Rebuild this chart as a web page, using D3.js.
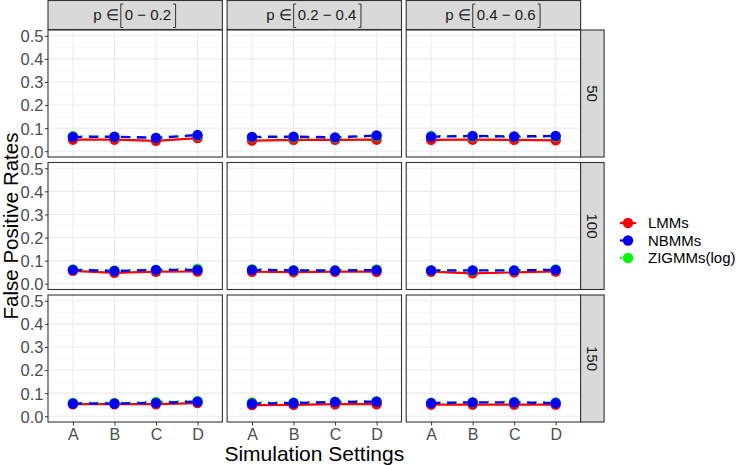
<!DOCTYPE html>
<html><head><meta charset="utf-8">
<script src="https://cdn.jsdelivr.net/npm/d3@7"></script>
<style>body{margin:0;background:#fff}svg{display:block;font-family:"Liberation Sans",Arial,sans-serif}</style>
</head><body><svg id="c" width="740" height="465"></svg>
<script>
const settings = ["A","B","C","D"];
const pRanges = [["0","0.2"],["0.2","0.4"],["0.4","0.6"]];
const sampleSizes = ["50","100","150"];
const methods = ["LMMs","NBMMs","ZIGMMs(log)"];
const yTicks = [0,0.1,0.2,0.3,0.4,0.5];
// values[row][col] for each method
const lmm = [
 [[0.050,0.050,0.045,0.057],[0.046,0.049,0.049,0.050],[0.049,0.050,0.049,0.047]],
 [[0.056,0.047,0.052,0.053],[0.052,0.050,0.052,0.052],[0.052,0.045,0.049,0.053]],
 [[0.052,0.052,0.052,0.057],[0.048,0.049,0.052,0.052],[0.050,0.050,0.050,0.050]]
];
const nbmm = [
 [[0.062,0.063,0.058,0.070],[0.062,0.063,0.060,0.068],[0.063,0.066,0.064,0.066]],
 [[0.060,0.055,0.060,0.060],[0.060,0.058,0.057,0.059],[0.058,0.058,0.058,0.060]],
 [[0.055,0.055,0.058,0.063],[0.055,0.057,0.062,0.063],[0.057,0.060,0.060,0.057]]
];
const zigmm = [
 [[0.065,0.062,0.058,0.068],[0.060,0.060,0.058,0.065],[0.066,0.063,0.062,0.064]],
 [[0.062,0.057,0.060,0.065],[0.063,0.058,0.058,0.062],[0.058,0.056,0.058,0.062]],
 [[0.058,0.057,0.062,0.066],[0.060,0.060,0.063,0.065],[0.058,0.060,0.062,0.060]]
];
const colors = {"LMMs":"#ff0000","NBMMs":"#0000ff","ZIGMMs(log)":"#00ff00"};
const dashes = {"LMMs":null,"NBMMs":"9,7","ZIGMMs(log)":"2,6"};
const seriesData = {"LMMs":lmm,"NBMMs":nbmm,"ZIGMMs(log)":zigmm};
const drawOrder = ["LMMs","ZIGMMs(log)","NBMMs"];

const svg = d3.select("#c");
const left=48, topY=30, pw=174.4, ph=127, gx=4.7, gy=5.5, stripH=29.5, stripW=23.5;
const x = d3.scalePoint().domain(settings).range([0,pw]).padding(0.6);
const y = d3.scaleLinear().domain([-0.025,0.525]).range([ph,0]);
const minor = [0.05,0.15,0.25,0.35,0.45];
const txtCol="#4d4d4d";

for(let r=0;r<3;r++){
  for(let c=0;c<3;c++){
    const g = svg.append("g").attr("transform",`translate(${left+c*(pw+gx)},${topY+r*(ph+gy)})`);
    g.append("rect").attr("width",pw).attr("height",ph).attr("fill","#fff");
    g.selectAll(".mn").data(minor).join("line").attr("class","mn").attr("x1",0).attr("x2",pw)
      .attr("y1",d=>y(d)).attr("y2",d=>y(d)).attr("stroke","#f2f2f2").attr("stroke-width",0.6);
    g.selectAll(".mj").data(yTicks).join("line").attr("class","mj").attr("x1",0).attr("x2",pw)
      .attr("y1",d=>y(d)).attr("y2",d=>y(d)).attr("stroke","#ebebeb").attr("stroke-width",1.1);
    g.selectAll(".vx").data(settings).join("line").attr("class","vx").attr("y1",0).attr("y2",ph)
      .attr("x1",d=>x(d)).attr("x2",d=>x(d)).attr("stroke","#ebebeb").attr("stroke-width",1.1);
    const line = d3.line().x((d,i)=>x(settings[i])).y(d=>y(d));
    drawOrder.forEach(m=>{
      const vals = seriesData[m][r][c];
      g.append("path").attr("d",line(vals)).attr("fill","none").attr("stroke",colors[m])
        .attr("stroke-width",m==="LMMs"?2.2:2.4).attr("stroke-dasharray",dashes[m]);
    });
    drawOrder.forEach(m=>{
      const vals = seriesData[m][r][c];
      g.selectAll(null).data(vals).join("circle").attr("cx",(d,i)=>x(settings[i])).attr("cy",d=>y(d))
        .attr("r",5.2).attr("fill",colors[m]);
    });
    g.append("rect").attr("width",pw).attr("height",ph).attr("fill","none").attr("stroke","#333").attr("stroke-width",1.1);
    if(c===0){
      const ya = svg.append("g").attr("transform",`translate(${left},${topY+r*(ph+gy)})`)
        .call(d3.axisLeft(y).tickValues(yTicks).tickFormat(d3.format(".1f")).tickSize(3).tickPadding(1.5));
      ya.select(".domain").remove();
      ya.selectAll("line").attr("stroke","#333");
      ya.selectAll("text").attr("fill",txtCol).style("font-size","16.5px").attr("dy","0.36em");
    }
    if(r===2){
      const xa = svg.append("g").attr("transform",`translate(${left+c*(pw+gx)},${topY+2*(ph+gy)+ph})`)
        .call(d3.axisBottom(x).tickSize(3.5).tickPadding(3));
      xa.select(".domain").remove();
      xa.selectAll("line").attr("stroke","#333");
      xa.selectAll("text").attr("fill",txtCol).style("font-size","16px");
    }
  }
  const sx = left+3*pw+2*gx, sy = topY+r*(ph+gy);
  svg.append("rect").attr("x",sx).attr("y",sy).attr("width",stripW).attr("height",ph)
    .attr("fill","#d9d9d9").attr("stroke","#333").attr("stroke-width",1.1);
  svg.append("text").attr("transform",`translate(${sx+stripW/2},${sy+ph/2}) rotate(90)`)
    .attr("text-anchor","middle").attr("dy","0.35em").attr("fill","#1a1a1a").style("font-size","15px")
    .text(sampleSizes[r]);
}
pRanges.forEach((pr,c)=>{
  const sx = left+c*(pw+gx);
  svg.append("rect").attr("x",sx).attr("y",0.5).attr("width",pw).attr("height",stripH-0.5)
    .attr("fill","#d9d9d9").attr("stroke","#333").attr("stroke-width",1.1);
  const g = svg.append("g");
  const t = g.append("text").attr("y",20).attr("fill","#1a1a1a").style("font-size","15px");
  t.append("tspan").text("p ∈ ");
  const inner = g.append("text").attr("y",20).attr("fill","#1a1a1a").style("font-size","15px").text(pr[0]+" − "+pr[1]);
  const w1 = t.node().getComputedTextLength();
  const w2 = inner.node().getComputedTextLength();
  const total = w1 + 6 + w2 + 6;
  const x0 = sx + pw/2 - total/2;
  t.attr("x",x0);
  const bl = x0 + w1 + 2, br = bl + 4.5 + w2 + 4;
  inner.attr("x", bl+4);
  const bc="#3a3026";
  g.append("path").attr("d",`M${bl+2.5},4 H${bl} V27.5 H${bl+2.5}`).attr("fill","none").attr("stroke",bc).attr("stroke-width",1);
  g.append("path").attr("d",`M${br-2.5},4 H${br} V27.5 H${br-2.5}`).attr("fill","none").attr("stroke",bc).attr("stroke-width",1);
});
svg.append("text").attr("x",left+(3*pw+2*gx)/2).attr("y",461).attr("text-anchor","middle")
  .style("font-size","21px").attr("fill","#000").text("Simulation Settings");
svg.append("text").attr("transform",`translate(17.5,${topY+(3*ph+2*gy)/2}) rotate(-90)`).attr("text-anchor","middle")
  .style("font-size","20.5px").attr("fill","#000").text("False Positive Rates");
const lg = svg.append("g").attr("transform","translate(628,223)");
methods.forEach((m,i)=>{
  const row = lg.append("g").attr("transform",`translate(0,${i*17.5})`);
  row.append("line").attr("x1",-8).attr("x2",8).attr("stroke",colors[m]).attr("stroke-width",2.2)
    .attr("stroke-dasharray",dashes[m]);
  row.append("circle").attr("r",5.2).attr("fill",colors[m]);
  row.append("text").attr("x",20).attr("dy","0.35em").style("font-size","15px").attr("fill","#000").text(m);
});
</script></body></html>
